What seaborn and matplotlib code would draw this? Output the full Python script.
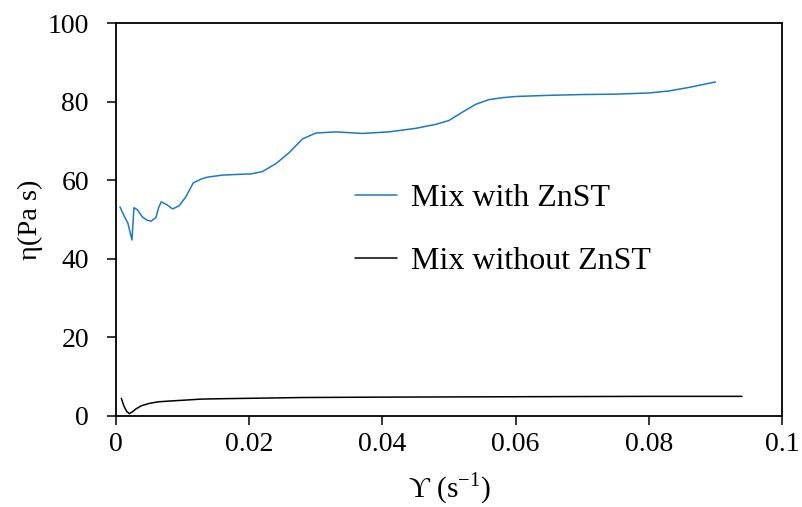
import matplotlib
matplotlib.use("Agg")
import matplotlib.pyplot as plt
import seaborn as sns
import pandas as pd

# Data
x_with = [0.0006, 0.0012, 0.0018, 0.0024, 0.0027, 0.0032, 0.004, 0.0047, 0.0053, 0.006, 0.0064, 0.0068,
          0.0076, 0.0085, 0.0095, 0.0105, 0.0116, 0.0128, 0.0138, 0.016, 0.0185, 0.0203,
          0.022, 0.024, 0.026, 0.028, 0.030, 0.033, 0.037, 0.041, 0.045, 0.048,
          0.050, 0.052, 0.054, 0.056, 0.058, 0.060, 0.065, 0.070, 0.075, 0.080,
          0.083, 0.086, 0.088, 0.090]
y_with = [53.2, 51.0, 49.0, 44.8, 53.0, 52.5, 50.6, 49.8, 49.6, 50.5, 53.0, 54.5,
          53.8, 52.7, 53.5, 55.8, 59.3, 60.3, 60.8, 61.3, 61.5, 61.6,
          62.2, 64.2, 67.0, 70.5, 72.0, 72.3, 71.9, 72.3, 73.2, 74.2,
          75.2, 77.3, 79.3, 80.5, 81.0, 81.3, 81.6, 81.8, 81.9, 82.2,
          82.7, 83.6, 84.3, 85.0]

x_without = [0.0008, 0.0012, 0.0016, 0.002, 0.0025, 0.003, 0.0038, 0.005, 0.0063, 0.008,
             0.010, 0.0128, 0.016, 0.02, 0.028, 0.04, 0.06, 0.08, 0.094]
y_without = [4.5, 2.5, 1.2, 0.6, 1.1, 1.8, 2.6, 3.2, 3.6, 3.8,
             4.0, 4.3, 4.4, 4.5, 4.7, 4.8, 4.9, 5.0, 5.0]

series_names = ["Mix with ZnST", "Mix without ZnST"]
x_ticks = [0, 0.02, 0.04, 0.06, 0.08, 0.1]
x_tick_labels = ["0", "0.02", "0.04", "0.06", "0.08", "0.1"]
y_ticks = [0, 20, 40, 60, 80, 100]

df = pd.concat([
    pd.DataFrame({"x": x_with, "y": y_with, "series": series_names[0]}),
    pd.DataFrame({"x": x_without, "y": y_without, "series": series_names[1]}),
])

sns.set_style("ticks")
plt.rcParams["font.family"] = ["Liberation Serif", "DejaVu Serif"]
plt.rcParams["mathtext.fontset"] = "custom"
plt.rcParams["mathtext.rm"] = "Liberation Serif"
plt.rcParams["text.color"] = "black"
plt.rcParams["axes.labelcolor"] = "black"

fig = plt.figure(figsize=(8.02, 5.07), dpi=100)
ax = fig.add_axes([0.1446, 0.1795, 0.975 - 0.1446, 0.9546 - 0.1795])

sns.lineplot(data=df, x="x", y="y", hue="series", sort=False,
             palette={series_names[0]: "#1E78C8", series_names[1]: "#000000"},
             linewidth=1.1, ax=ax, estimator=None)

ax.set_xlim(0, 0.1)
ax.set_ylim(0, 100)
ax.set_xticks(x_ticks)
ax.set_xticklabels(x_tick_labels)
ax.set_yticks(y_ticks)
ax.tick_params(direction="out", length=6.5, width=1.1, labelsize=20,
               colors="black", labelcolor="black")
ax.tick_params(axis="y", pad=13)
ax.tick_params(axis="x", pad=5)
for s in ax.spines.values():
    s.set_linewidth(1.3)
    s.set_color("black")
    s.set_visible(True)

ax.set_xlabel("ϒ (s$^{\\mathrm{-1}}$)", fontsize=21, labelpad=10, color="black")
ax.set_ylabel("η(Pa s)", fontsize=20.5, labelpad=3, color="black")

leg = ax.legend(loc="center left", bbox_to_anchor=(0.359, 0.474), frameon=False,
                fontsize=23, borderpad=0, borderaxespad=0, handlelength=1.3,
                handletextpad=0.44, labelspacing=1.05)
for t in leg.get_texts():
    t.set_color("black")

fig.savefig("out.png", dpi=100)
